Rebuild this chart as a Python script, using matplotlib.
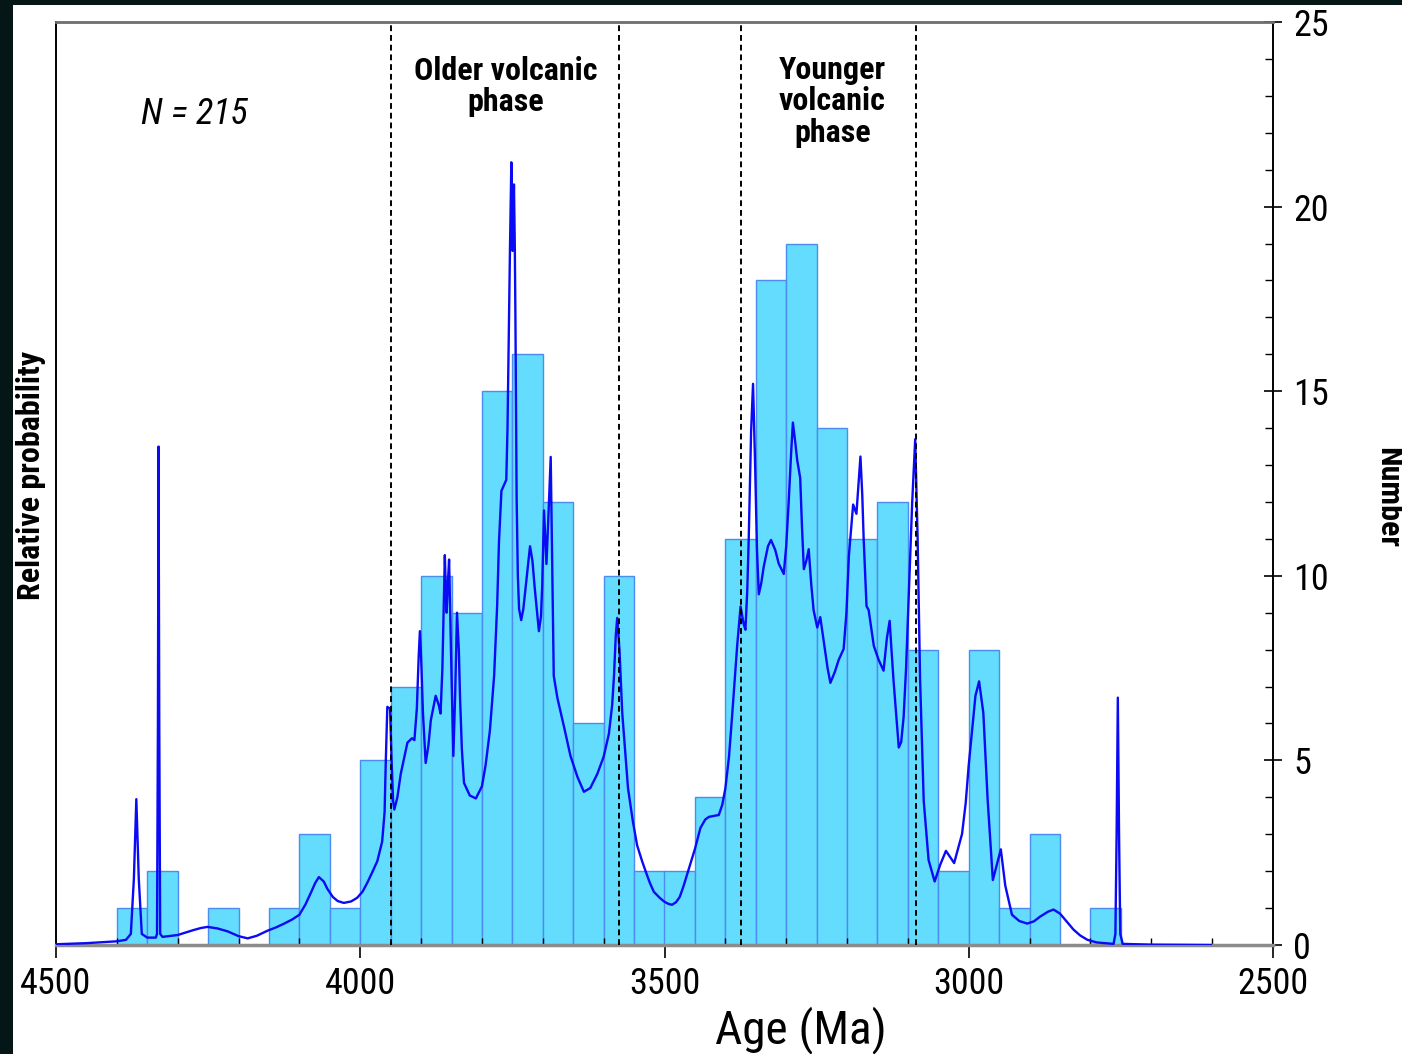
#!/usr/bin/env python3
"""Zircon age histogram with probability density curve (N = 215)."""

import matplotlib
matplotlib.use("Agg")
import matplotlib.pyplot as plt
from matplotlib import font_manager
from matplotlib.patches import Rectangle
from matplotlib.ticker import MultipleLocator

# ── histogram: 50 Ma bins, listed by the older edge of each bin ──
BIN_WIDTH = 50
bin_start = [4400, 4350, 4250, 4150, 4100, 4050, 4000, 3950, 3900, 3850,
             3800, 3750, 3700, 3650, 3600, 3550, 3500, 3450, 3400, 3350,
             3300, 3250, 3200, 3150, 3100, 3050, 3000, 2950, 2900, 2800]
counts = [1, 2, 1, 1, 3, 1, 5, 7, 10, 9,
          15, 16, 12, 6, 10, 2, 2, 4, 11, 18,
          19, 14, 11, 12, 8, 2, 8, 1, 3, 1]

# ── probability curve (arbitrary units) ──
curve_age = [4500, 4450, 4400, 4385, 4377, 4372, 4368, 4364, 4359, 4350,
             4336, 4334, 4332.5, 4331.5, 4330.3, 4328.8, 4325, 4300, 4275, 4262,
             4251, 4235, 4218, 4200, 4185, 4170, 4152, 4138, 4125, 4112,
             4100, 4090, 4081, 4074, 4068, 4060, 4054, 4045, 4037, 4027,
             4015, 4005, 3996, 3988, 3980, 3972, 3964,
             3960, 3958, 3955.5, 3951, 3948.5, 3946, 3944, 3939, 3933.5, 3922.5,
             3915, 3911, 3907, 3904, 3902, 3900, 3897, 3892.5, 3888, 3884,
             3876, 3871, 3868, 3865, 3863, 3861, 3859, 3858, 3856, 3854,
             3852, 3850, 3847, 3844, 3841, 3838, 3836, 3833, 3829.5, 3820,
             3810, 3800, 3794, 3787, 3780, 3775, 3772, 3768, 3764, 3760,
             3758, 3756.5, 3754, 3751.7, 3750.5, 3749.6, 3748.5, 3747.4, 3746, 3745,
             3743, 3741, 3739, 3735.5, 3732, 3728, 3721, 3717, 3713.5, 3706.4,
             3703, 3701, 3698, 3694, 3691, 3687, 3684.5, 3682, 3676, 3665,
             3654.5, 3643, 3632.5, 3622, 3610.5, 3600, 3591.4, 3586, 3583, 3580,
             3577.7, 3574, 3569.5, 3560, 3552, 3545, 3537, 3530, 3524, 3517.5,
             3508, 3500, 3493, 3487.4, 3481, 3475, 3469,
             3462.7, 3456, 3450, 3441, 3433, 3427, 3418, 3410.8, 3405, 3400, 3394,
             3389, 3384, 3380.6, 3375, 3370, 3367, 3364, 3361.6, 3357.7, 3354.5,
             3351, 3348, 3345, 3341, 3337, 3330, 3325, 3318, 3312.3, 3304,
             3300, 3296, 3292, 3289, 3285, 3282, 3277, 3274, 3271, 3267,
             3263, 3259, 3255, 3249, 3244, 3237.3, 3232, 3227.4, 3220, 3213.8,
             3205.6, 3201, 3197, 3190, 3184.6, 3178, 3175, 3172.7, 3168, 3164.5,
             3156, 3148, 3140, 3134.6, 3130, 3127, 3123.5, 3115, 3111, 3107,
             3103, 3099, 3093, 3088, 3084, 3080, 3074, 3066, 3056, 3047,
             3037.5, 3024, 3011, 3005, 3000, 2994, 2989, 2983, 2976, 2969, 2960.4, 2954,
             2947.3, 2940, 2929, 2917, 2904, 2893, 2882.6, 2870, 2860.7, 2850, 2838.8,
             2828, 2817, 2805, 2790, 2762, 2759, 2757, 2755, 2753, 2751, 2747, 2700, 2602]
curve_val = [0.02, 0.05, 0.10, 0.14, 0.3, 1.8, 3.95, 1.8, 0.3, 0.2,
             0.2, 0.3, 6.0, 13.5, 6.0, 0.3, 0.22, 0.27, 0.4, 0.46,
             0.49, 0.45, 0.37, 0.24, 0.18, 0.25, 0.39, 0.48, 0.58, 0.69,
             0.82, 1.1, 1.42, 1.68, 1.84, 1.72, 1.52, 1.3, 1.19, 1.14,
             1.18, 1.28, 1.45, 1.7, 1.98, 2.27, 2.8,
             3.6, 5.0, 6.45, 6.4, 5.0, 3.9, 3.67, 4.0, 4.63, 5.48,
             5.6, 5.55, 6.4, 7.8, 8.5, 7.8, 6.3, 4.93, 5.4, 6.09,
             6.75, 6.5, 6.27, 7.5, 9.0, 10.56, 9.4, 9.0, 9.8, 10.44,
             8.8, 7.3, 5.12, 6.8, 9.0, 8.0, 6.7, 5.3, 4.39, 4.05,
             3.97, 4.3, 4.87, 5.8, 7.29, 9.2, 10.92, 12.3, 12.45, 12.6,
             14.0, 15.8, 18.8, 21.2, 20.0, 18.8, 19.6, 20.6, 18.9, 17.0,
             12.1, 10.0, 9.1, 8.8, 9.1, 9.72, 10.8, 10.4, 9.71, 8.5,
             8.9, 9.72, 11.77, 10.32, 11.52, 13.22, 10.32, 7.29, 6.69, 5.9,
             5.12, 4.55, 4.15, 4.25, 4.63, 5.1, 5.72, 6.5, 7.29, 8.4,
             8.86, 8.0, 6.3, 4.25, 3.35, 2.7, 2.28, 1.95, 1.68, 1.44,
             1.28, 1.17, 1.11, 1.09, 1.16, 1.3, 1.58,
             1.92, 2.28, 2.6, 3.17, 3.4, 3.47, 3.5, 3.52, 3.8, 4.24, 5.1,
             6.18, 7.3, 8.1, 9.17, 8.7, 8.54, 9.6, 11.0, 13.9, 15.2,
             12.95, 10.7, 9.5, 9.8, 10.24, 10.8, 10.97, 10.7, 10.33, 10.05,
             10.8, 11.97, 13.3, 14.15, 13.6, 13.14, 12.65, 11.3, 10.18, 10.4,
             10.72, 9.8, 9.07, 8.6, 8.88, 8.1, 7.5, 7.1, 7.4, 7.72,
             8.02, 9.0, 10.54, 11.93, 11.68, 13.23, 12.2, 11.0, 9.18, 9.07,
             8.1, 7.72, 7.43, 8.3, 8.78, 8.0, 7.14, 5.35, 5.5, 6.18,
             7.5, 9.3, 11.97, 13.7, 11.0, 7.2, 3.9, 2.3, 1.72, 2.17,
             2.55, 2.22, 3.01, 3.85, 4.88, 5.9, 6.75, 7.14, 6.28, 3.95, 1.76, 2.17,
             2.59, 1.61, 0.82, 0.65, 0.58, 0.64, 0.77, 0.9, 0.96, 0.85, 0.63,
             0.42, 0.26, 0.14, 0.07, 0.03, 0.3, 3.0, 6.7, 3.0, 0.3, 0.03, 0.01, 0.0]

# boundaries of the two volcanic phases (Ma)
phase_bounds = [3950, 3575, 3375, 3087]

names = {f.name for f in font_manager.fontManager.ttflist}
FONT = "Roboto Condensed" if "Roboto Condensed" in names else "Liberation Sans"
plt.rcParams["font.family"] = [FONT, "DejaVu Sans"]

fig = plt.figure(figsize=(14.02, 10.54), dpi=100, facecolor="#041716")
fig.patches.append(Rectangle((13 / 1402, 0), 1, 1 - 5 / 1054, transform=fig.transFigure,
                             facecolor="white", edgecolor="none", zorder=-5))

ax = fig.add_axes([56 / 1402, 109 / 1054, 1217 / 1402, 923 / 1054])
ax2 = ax.twinx()
ax.set_zorder(ax2.get_zorder() + 1)
ax.patch.set_visible(False)
ax2.patch.set_visible(False)

# histogram on the "Number" axis
centres = [b - BIN_WIDTH / 2 for b in bin_start]
ax2.bar(centres, counts, width=BIN_WIDTH, color="#63dcfe",
        edgecolor="#4a8cf2", linewidth=1.0)

# probability curve and phase boundaries on the probability axis
ax.plot(curve_age, curve_val, color="#0a0af5", linewidth=1.7, zorder=3,
        solid_joinstyle="round")
for b in phase_bounds:
    ax.axvline(b, color="black", linestyle=(0, (3, 2)), linewidth=1.4, zorder=4)

ax.set_xlim(4500, 2500)
ax.set_ylim(0, 25)
ax2.set_ylim(0, 25)

ax.set_xticks([4500, 4000, 3500, 3000, 2500])
ax.xaxis.set_minor_locator(MultipleLocator(100))
ax.tick_params(axis="x", which="major", direction="out", length=9, width=1.2,
               labelsize=26, pad=6)
ax.tick_params(axis="x", which="minor", direction="in", length=5, width=1.0)
ax.set_yticks([])

ax2.set_yticks(range(0, 26, 5))
ax2.yaxis.set_minor_locator(MultipleLocator(1))
ax2.tick_params(axis="y", which="major", direction="inout", length=13, width=1.2,
                labelsize=26, pad=8)
ax2.tick_params(axis="y", which="minor", direction="in", length=6, width=1.0)

for side in ["left", "right"]:
    ax.spines[side].set_color("black")
    ax.spines[side].set_linewidth(1.4)
ax.spines["top"].set_color("#6e6e6e")
ax.spines["top"].set_linewidth(2)
ax.spines["bottom"].set_color("#8c8c8c")
ax.spines["bottom"].set_linewidth(2.5)
for side in ax2.spines:
    ax2.spines[side].set_visible(False)

ax.set_xlabel("Age (Ma)", fontsize=34, va="center")
ax.xaxis.set_label_coords(0.612, -0.092)
ax.set_ylabel("Relative probability", fontsize=23, fontweight="bold", va="center")
ax.yaxis.set_label_coords(-0.0205, 0.509)
ax2.set_ylabel("Number", fontsize=23, fontweight="bold", rotation=270, va="center")
ax2.yaxis.set_label_coords(1.095, 0.485)

ax.text(4360, 22.5, "N = 215", fontsize=26, style="italic", ha="left", va="center")
ax.text(3761, 23.25, "Older volcanic\nphase", fontsize=23, fontweight="bold",
        ha="center", va="center", linespacing=1.05)
ax.text(3224, 22.85, "Younger\nvolcanic\nphase", fontsize=23, fontweight="bold",
        ha="center", va="center", linespacing=1.05)

fig.savefig("out.png", dpi=100, facecolor=fig.get_facecolor())
